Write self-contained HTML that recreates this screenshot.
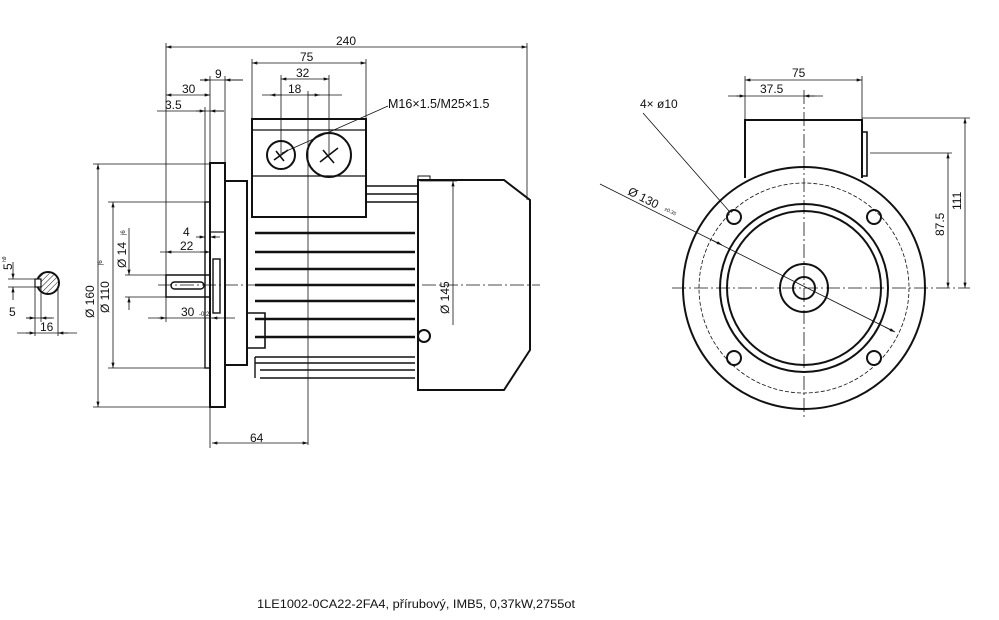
<!DOCTYPE html>
<html><head><meta charset="utf-8"><style>
html,body{margin:0;padding:0;background:#fff;}
svg{display:block;}
text{font-family:"Liberation Sans",sans-serif;fill:#111;}
</style></head><body>
<svg width="999" height="620" viewBox="0 0 999 620" xmlns="http://www.w3.org/2000/svg">
<defs>
<marker id="a" viewBox="0 0 10 6" refX="10" refY="3" markerWidth="8" markerHeight="4" orient="auto-start-reverse"><path d="M0,0L10,3L0,6z" fill="#111"/></marker>
<pattern id="h" width="4" height="4" patternUnits="userSpaceOnUse" patternTransform="rotate(45)"><line x1="0" y1="0" x2="0" y2="4" stroke="#111" stroke-width="1"/></pattern>
</defs>
<g stroke="#111" fill="none" stroke-width="0.8">
<line x1="166" y1="47" x2="527" y2="47" marker-start="url(#a)" marker-end="url(#a)"/>
<line x1="166" y1="43" x2="166" y2="322"/><line x1="527" y1="43" x2="527" y2="200"/>
<line x1="252" y1="63" x2="366" y2="63" marker-start="url(#a)" marker-end="url(#a)"/>
<line x1="252" y1="59" x2="252" y2="119"/><line x1="366" y1="59" x2="366" y2="119"/>
<line x1="281" y1="79" x2="329" y2="79" marker-start="url(#a)" marker-end="url(#a)"/>
<line x1="281" y1="75" x2="281" y2="155"/><line x1="329" y1="75" x2="329" y2="155"/>
<line x1="262" y1="95" x2="342" y2="95"/>
<line x1="281" y1="95" x2="270" y2="95" marker-end="url(#a)"/><line x1="308" y1="95" x2="320" y2="95" marker-end="url(#a)"/>
<line x1="308" y1="91" x2="308" y2="445"/>
<line x1="200" y1="80" x2="243" y2="80"/>
<line x1="200" y1="80" x2="210" y2="80" marker-end="url(#a)"/><line x1="243" y1="80" x2="225" y2="80" marker-end="url(#a)"/>
<line x1="210" y1="76" x2="210" y2="163"/><line x1="225" y1="76" x2="225" y2="163"/>
<line x1="166" y1="95" x2="210" y2="95" marker-start="url(#a)" marker-end="url(#a)"/>
<line x1="157" y1="111" x2="224" y2="111"/>
<line x1="196" y1="111" x2="205" y2="111" marker-end="url(#a)"/><line x1="224" y1="111" x2="210" y2="111" marker-end="url(#a)"/>
<line x1="205" y1="107" x2="205" y2="202"/>
<line x1="196" y1="237" x2="205" y2="237" marker-end="url(#a)"/><line x1="220" y1="237" x2="210" y2="237" marker-end="url(#a)"/>
<line x1="160" y1="252" x2="210" y2="252"/><line x1="172" y1="252" x2="166" y2="252" marker-end="url(#a)"/>
<line x1="200" y1="252" x2="210" y2="252" marker-end="url(#a)"/>
<line x1="148" y1="318" x2="235" y2="318"/><line x1="158" y1="318" x2="166" y2="318" marker-end="url(#a)"/>
<line x1="220" y1="318" x2="212" y2="318" marker-end="url(#a)"/>
<line x1="93" y1="164" x2="210" y2="164"/><line x1="93" y1="407" x2="210" y2="407"/>
<line x1="98" y1="164" x2="98" y2="407" marker-start="url(#a)" marker-end="url(#a)"/>
<line x1="108" y1="202" x2="205" y2="202"/><line x1="108" y1="368" x2="205" y2="368"/>
<line x1="113" y1="202" x2="113" y2="368" marker-start="url(#a)" marker-end="url(#a)"/>
<line x1="125" y1="275" x2="166" y2="275"/><line x1="125" y1="297" x2="166" y2="297"/>
<line x1="129" y1="228" x2="129" y2="275" marker-end="url(#a)"/><line x1="129" y1="310" x2="129" y2="297" marker-end="url(#a)"/>
<line x1="210" y1="407" x2="210" y2="448"/>
<line x1="212" y1="443" x2="308" y2="443" marker-start="url(#a)" marker-end="url(#a)"/>
<line x1="420" y1="181" x2="457" y2="181"/>
<line x1="453" y1="181" x2="453" y2="325" marker-start="url(#a)"/>
<line x1="158" y1="285" x2="540" y2="285" stroke-dasharray="14,3,2,3"/>
<line x1="282" y1="153" x2="388" y2="106"/>
</g>
<g stroke="#111" fill="none" stroke-width="2">
<rect x="210" y="163" width="15" height="244"/>
<rect x="205" y="202" width="5" height="166" stroke-width="1.4"/>
<rect x="213" y="259" width="7" height="54" stroke-width="1.4"/>
<rect x="166" y="275" width="44" height="22" stroke-width="1.5"/>
<rect x="171" y="282" width="33" height="7" rx="3.5" stroke-width="1.4"/>
<path d="M225,181H247V365H225"/>
<line x1="225" y1="232" x2="210" y2="232" stroke-width="1.2"/>
<rect x="252" y="119" width="114" height="98"/>
<line x1="252" y1="130" x2="366" y2="130" stroke-width="1.2"/>
<line x1="252" y1="176" x2="366" y2="176" stroke-width="1.2"/>
<circle cx="281" cy="155" r="14"/><circle cx="329" cy="155" r="22"/>
<path d="M274,160l14,-10M276,151l8,10M320,162l18,-14M323,150l11,13" stroke-width="1.6"/>
<path d="M366,186H418M366,194H418M366,202H418" stroke-width="1.4"/>
<path d="M255,233H415M255,252H415M255,269H415M255,285H415M255,301H415M255,319H415M255,337H415" stroke-width="2.6"/>
<path d="M247,313H265V348H247" stroke-width="1.6"/>
<path d="M255,357H415M255,363H415M260,370H415M260,378H415" stroke-width="1.4"/>
<path d="M255,357V378" stroke-width="1.4"/>
<path d="M418,180H504L530,200V350L504,390H418Z"/>
<rect x="418" y="176" width="12" height="4" stroke-width="1"/>
<circle cx="424" cy="336" r="6"/>
<circle cx="48" cy="283" r="11"/>
</g>
<circle cx="48" cy="283" r="10" fill="url(#h)"/>
<rect x="35" y="279" width="6" height="8" fill="#fff" stroke="#111" stroke-width="1.2"/>
<g stroke="#111" fill="none" stroke-width="0.8">
<line x1="8" y1="279" x2="35" y2="279"/><line x1="8" y1="287" x2="35" y2="287"/>
<line x1="13" y1="262" x2="13" y2="279" marker-end="url(#a)"/><line x1="13" y1="300" x2="13" y2="287" marker-end="url(#a)"/>
<line x1="35" y1="287" x2="35" y2="336"/><line x1="41" y1="287" x2="41" y2="322"/><line x1="58" y1="287" x2="58" y2="336"/>
<line x1="26" y1="318" x2="54" y2="318"/><line x1="26" y1="318" x2="35" y2="318" marker-end="url(#a)"/><line x1="52" y1="318" x2="41" y2="318" marker-end="url(#a)"/>
<line x1="17" y1="333" x2="77" y2="333"/><line x1="26" y1="333" x2="35" y2="333" marker-end="url(#a)"/><line x1="68" y1="333" x2="58" y2="333" marker-end="url(#a)"/>
</g>
<!-- RIGHT VIEW -->
<g stroke="#111" fill="none" stroke-width="2">
<path d="M745,178V120H862V178"/>
<path d="M862,132h5v44h-5" stroke-width="1.6"/>
<circle cx="804" cy="288" r="121"/>
<circle cx="804" cy="288" r="84"/>
<circle cx="804" cy="288" r="77"/>
<circle cx="804" cy="288" r="24"/>
<circle cx="804" cy="288" r="11"/>
<circle cx="734" cy="217" r="7"/><circle cx="874" cy="217" r="7"/>
<circle cx="734" cy="358" r="7"/><circle cx="874" cy="358" r="7"/>
</g>
<g stroke="#111" fill="none" stroke-width="0.8">
<line x1="745" y1="80" x2="862" y2="80" marker-start="url(#a)" marker-end="url(#a)"/>
<line x1="745" y1="76" x2="745" y2="121"/><line x1="862" y1="76" x2="862" y2="121"/>
<line x1="728" y1="96" x2="823" y2="96"/>
<line x1="736" y1="96" x2="745" y2="96" marker-end="url(#a)"/><line x1="815" y1="96" x2="804" y2="96" marker-end="url(#a)"/>
<line x1="862" y1="118" x2="970" y2="118"/><line x1="870" y1="153" x2="952" y2="153"/>
<line x1="965" y1="118" x2="965" y2="288" marker-start="url(#a)" marker-end="url(#a)"/>
<line x1="948" y1="153" x2="948" y2="288" marker-start="url(#a)" marker-end="url(#a)"/>
<line x1="672" y1="288" x2="970" y2="288" stroke-dasharray="14,3,2,3"/>
<line x1="804" y1="90" x2="804" y2="420" stroke-dasharray="14,3,2,3"/>
<circle cx="804" cy="288" r="105" stroke-dasharray="4,2"/>
<line x1="643" y1="113" x2="729" y2="211"/>
<line x1="600" y1="184" x2="893" y2="331"/>
<line x1="712" y1="240" x2="722" y2="245" marker-end="url(#a)"/><line x1="885" y1="327" x2="895" y2="332" marker-end="url(#a)"/>
</g>
<g font-size="12">
<text x="336" y="45">240</text>
<text x="300" y="61">75</text>
<text x="296" y="77">32</text>
<text x="288" y="93">18</text>
<text x="215" y="78">9</text>
<text x="182" y="93">30</text>
<text x="165" y="109">3.5</text>
<text x="388" y="108" font-size="12.5">M16×1.5/M25×1.5</text>
<text x="183" y="236">4</text>
<text x="180" y="250">22</text>
<text x="181" y="316">30</text><text x="199" y="316" font-size="6">-0.2</text>
<text x="250" y="442">64</text>
<text transform="translate(94,318) rotate(-90)">Ø 160</text>
<text transform="translate(109,313) rotate(-90)">Ø 110</text>
<text font-size="6" transform="translate(102,265) rotate(-90)">j6</text>
<text transform="translate(126,268) rotate(-90)">Ø 14</text>
<text font-size="6" transform="translate(125,235) rotate(-90)">j6</text>
<text transform="translate(449,314) rotate(-90)">Ø 145</text>
<text transform="translate(12,270) rotate(-90)">5</text><text font-size="5" transform="translate(6,262) rotate(-90)">h9</text>
<text x="9" y="316">5</text>
<text x="40" y="331">16</text>
<text x="792" y="77">75</text>
<text x="760" y="93">37.5</text>
<text x="640" y="108">4×  ø10</text>
<text transform="translate(627,194) rotate(27)">Ø 130</text>
<text font-size="5" transform="translate(664,210) rotate(27)">±0.35</text>
<text transform="translate(944,236) rotate(-90)">87.5</text>
<text transform="translate(961,210) rotate(-90)">111</text>
<text x="257" y="608" font-size="11.5" textLength="318" lengthAdjust="spacingAndGlyphs">1LE1002-0CA22-2FA4, přírubový, IMB5, 0,37kW,2755ot</text>
</g>
</svg>
</body></html>
